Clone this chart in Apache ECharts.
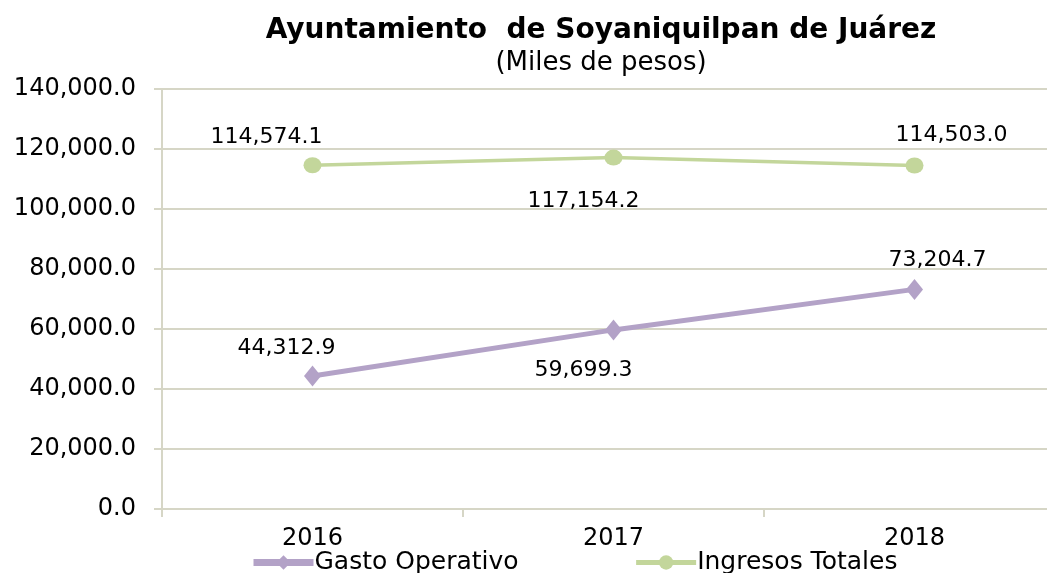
<!DOCTYPE html>
<html>
<head>
<meta charset="utf-8">
<title>Ayuntamiento de Soyaniquilpan de Juárez</title>
<script src="https://cdn.jsdelivr.net/npm/echarts@6/dist/echarts.min.js"></script>
<style>
  html, body { margin: 0; padding: 0; background: #fff; }
  #chart { width: 1047px; height: 573px; }
</style>
</head>
<body>
<div id="chart"></div>
<script>
// datos (miles de pesos)
const years = ['2016', '2017', '2018'];
const gastoOperativo = [44312.9, 59699.3, 73204.7];
const ingresosTotales = [114574.1, 117154.2, 114503.0];
const yTicks = [0, 20000, 40000, 60000, 80000, 100000, 120000, 140000];

const gridColor = '#d6d6c6';
const purple = '#b3a2c7';
const green = '#c3d69b';
const font = 'DejaVu Sans';

function fmt(v) {
  return Number(v).toLocaleString('en-US', { minimumFractionDigits: 1, maximumFractionDigits: 1 });
}

// label placement per point, as in the original
const gastoLabelOffsets = [[-26, -28], [-30, 40], [23, -29]];
const ingresosLabelOffsets = [[-46, -28], [-30, 44], [37, -30]];

function withLabels(values, offsets) {
  return values.map((v, i) => ({
    value: v,
    label: { offset: offsets[i] }
  }));
}

let chartDom = document.getElementById('chart');
let myChart = echarts.init(chartDom);
let option;

option = {
  animation: false,
  title: {
    text: 'Ayuntamiento  de Soyaniquilpan de Juárez',
    subtext: '(Miles de pesos)',
    left: 596,
    textAlign: 'center',
    top: 12,
    itemGap: 5,
    textStyle: { fontFamily: font, fontSize: 28, fontWeight: 'bold', color: '#000' },
    subtextStyle: { fontFamily: font, fontSize: 26, color: '#000' }
  },
  legend: {
    top: 545,
    left: 245,
    itemWidth: 60,
    itemHeight: 18,
    itemGap: 115,
    textStyle: { fontFamily: font, fontSize: 25, color: '#000', padding: [0, 0, 0, -4] },
    data: [
      { name: 'Gasto Operativo', itemStyle: { color: purple }, lineStyle: { color: purple, width: 7 } },
      { name: 'Ingresos Totales', itemStyle: { color: green }, lineStyle: { color: green, width: 5 } }
    ]
  },
  grid: {
    left: 162,
    width: 903,
    top: 89,
    bottom: 64,
    containLabel: false,
    outerBoundsMode: 'none'
  },
  xAxis: {
    type: 'category',
    data: years,
    boundaryGap: true,
    axisLine: { show: true, lineStyle: { color: gridColor, width: 2 } },
    axisTick: { show: true, length: 8, alignWithLabel: false, lineStyle: { color: gridColor, width: 2 } },
    axisLabel: { margin: 18, fontFamily: font, fontSize: 24, color: '#000' },
    splitLine: { show: false }
  },
  yAxis: {
    type: 'value',
    min: yTicks[0],
    max: yTicks[yTicks.length - 1],
    interval: yTicks[1] - yTicks[0],
    axisLine: { show: true, lineStyle: { color: gridColor, width: 2 } },
    axisTick: { show: true, length: 8, lineStyle: { color: gridColor, width: 2 } },
    axisLabel: { margin: 26, fontFamily: font, fontSize: 24, color: '#000', formatter: fmt },
    splitLine: { show: true, lineStyle: { color: gridColor, width: 2 } }
  },
  series: [
    {
      name: 'Gasto Operativo',
      type: 'line',
      data: withLabels(gastoOperativo, gastoLabelOffsets),
      symbol: 'diamond',
      symbolSize: [17, 21],
      itemStyle: { color: purple },
      lineStyle: { color: purple, width: 5 },
      label: {
        show: true,
        position: 'inside',
        fontFamily: font,
        fontSize: 22,
        color: '#000',
        formatter: p => fmt(p.value)
      }
    },
    {
      name: 'Ingresos Totales',
      type: 'line',
      data: withLabels(ingresosTotales, ingresosLabelOffsets),
      symbol: 'circle',
      symbolSize: [18, 16],
      itemStyle: { color: green },
      lineStyle: { color: green, width: 3.5 },
      label: {
        show: true,
        position: 'inside',
        fontFamily: font,
        fontSize: 22,
        color: '#000',
        formatter: p => fmt(p.value)
      }
    }
  ]
};
myChart.setOption(option);
</script>
</body>
</html>
